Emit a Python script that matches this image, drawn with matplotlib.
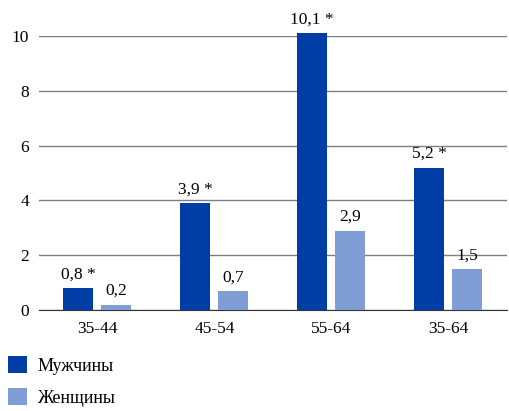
import numpy as np
import matplotlib.pyplot as plt

plt.rcParams['font.family'] = ['Liberation Serif', 'DejaVu Serif']
plt.rcParams['font.size'] = 12.5

# ---------- Data ----------
categories = ['35-44', '45-54', '55-64', '35-64']
men = [0.8, 3.9, 10.1, 5.2]
women = [0.2, 0.7, 2.9, 1.5]
men_labels = ['0,8 *', '3,9 *', '10,1 *', '5,2 *']
women_labels = ['0,2', '0,7', '2,9', '1,5']
series_names = ['Мужчины', 'Женщины']

men_color = '#003DA5'
women_color = '#7F9ED6'

fig = plt.figure(figsize=(5.1, 4.11), dpi=100)
ax = fig.add_axes([0.0765, 0.2457, 0.9175, 0.6663])

x = np.arange(len(categories))
w = 0.26
b1 = ax.bar(x - 0.165, men, w, color=men_color, label=series_names[0], clip_on=False, zorder=3)
b2 = ax.bar(x + 0.16, women, w, color=women_color, label=series_names[1], clip_on=False, zorder=3)

for rect, lab in zip(b1, men_labels):
    ax.annotate(lab, (rect.get_x() + rect.get_width() / 2, rect.get_height()),
                xytext=(0, 4), textcoords='offset points', ha='center', va='bottom',
                annotation_clip=False)
for rect, lab in zip(b2, women_labels):
    ax.annotate(lab, (rect.get_x() + rect.get_width() / 2, rect.get_height()),
                xytext=(0, 4), textcoords='offset points', ha='center', va='bottom',
                annotation_clip=False)

ax.set_xlim(-0.5, len(categories) - 0.5)
ax.set_ylim(0, 10)
ax.set_yticks([0, 2, 4, 6, 8, 10])
ax.set_xticks(x)
ax.set_xticklabels(categories)
ax.yaxis.grid(True, color='#7f7f7f', linewidth=1)
ax.set_axisbelow(True)
for s in ['top', 'right', 'left']:
    ax.spines[s].set_visible(False)
ax.spines['bottom'].set_color('#333333')
ax.tick_params(axis='y', length=0, pad=7)
ax.tick_params(axis='x', length=0, pad=8)

fig.legend(handles=[b1, b2], labels=series_names, loc='upper left',
           bbox_to_anchor=(0.0, 0.153), frameon=False, fontsize=13,
           handlelength=1.05, handleheight=1.05, labelspacing=0.75,
           handletextpad=0.6, borderaxespad=0.0, borderpad=0.45)

fig.savefig('out.png', dpi=100)
